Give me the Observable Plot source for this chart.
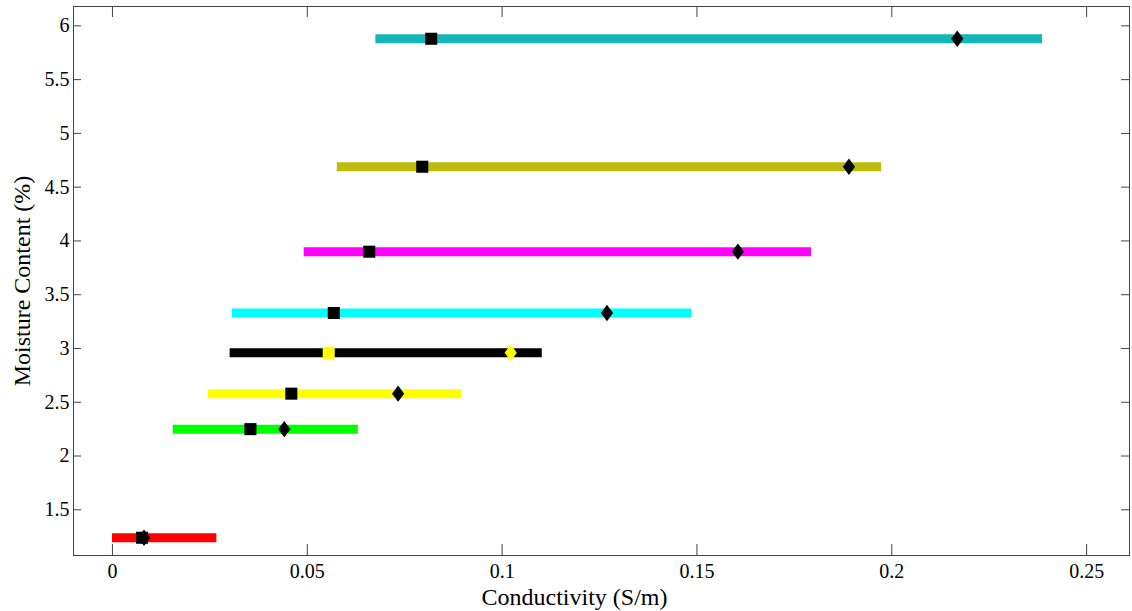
<!DOCTYPE html>
<html><head><meta charset="utf-8">
<script src="https://cdn.jsdelivr.net/npm/d3@7"></script>
<script src="https://cdn.jsdelivr.net/npm/@observablehq/plot@0.6"></script>
<style>html,body{margin:0;padding:0;background:#fff;}</style>
</head><body><div id="chart"></div>
<script>
const moisture   = [1.24, 2.25, 2.58, 2.96, 3.33, 3.90, 4.69, 5.88];
const rangeMin   = [0.0, 0.0156, 0.0246, 0.0302, 0.0308, 0.0492, 0.0577, 0.0676];
const rangeMax   = [0.0268, 0.0631, 0.0897, 0.1103, 0.1487, 0.1794, 0.1974, 0.2387];
const squareVal  = [0.0076, 0.0354, 0.0459, 0.0555, 0.0568, 0.0659, 0.0795, 0.0818];
const diamondVal = [0.0081, 0.0441, 0.0733, 0.1022, 0.1269, 0.1605, 0.1890, 0.2168];
const barColors    = ["#ff0000", "#00ff00", "#ffff00", "#000000", "#00ffff", "#ff00ff", "#bdbb0c", "#13b7b5"];
const markerColors = ["#000000", "#000000", "#000000", "#ffff00", "#000000", "#000000", "#000000", "#000000"];
const xTicks = [0, 0.05, 0.1, 0.15, 0.2, 0.25];
const xTickLabels = ["0", "0.05", "0.1", "0.15", "0.2", "0.25"];
const yTicks = [1.5, 2, 2.5, 3, 3.5, 4, 4.5, 5, 5.5, 6];
const yTickLabels = ["1.5", "2", "2.5", "3", "3.5", "4", "4.5", "5", "5.5", "6"];
const xLabel = "Conductivity (S/m)";
const yLabel = "Moisture Content (%)";

const rows = moisture.map((m, i) => ({
  m, lo: rangeMin[i], hi: rangeMax[i], sq: squareVal[i], dia: diamondVal[i],
  bc: barColors[i], mc: markerColors[i]
}));

const W = 1132, H = 611, ML = 73, MR = 3, MT = 6, MB = 56;
const innerW = W - ML - MR, innerH = H - MT - MB;
const axisColor = "#444";
const font = "'Liberation Serif', 'Times New Roman', serif";

const diamondSym = {
  draw(ctx, size) {
    const s = Math.sqrt(size / Math.PI);
    const hh = s * 1.2, hw = s * 0.9;
    ctx.moveTo(0, -hh); ctx.lineTo(hw, 0); ctx.lineTo(0, hh); ctx.lineTo(-hw, 0); ctx.closePath();
  }
};

const chart = Plot.plot({
  width: W, height: H,
  marginLeft: ML, marginRight: MR, marginTop: MT, marginBottom: MB,
  style: {fontFamily: font, background: "white", color: "black"},
  x: {domain: [-0.01, 0.261]},
  y: {domain: [1.075, 6.18]},
  color: {type: "identity"},
  marks: [
    Plot.ruleY(rows, {y: "m", x1: "lo", x2: "hi", stroke: "bc", strokeWidth: 9}),
    Plot.dot(rows, {x: "sq", y: "m", symbol: "square", r: 6.8, fill: "mc", stroke: "none"}),
    Plot.dot(rows, {x: "dia", y: "m", symbol: diamondSym, r: 6.8, fill: "mc", stroke: "none"}),
    Plot.frame({stroke: axisColor, strokeWidth: 1}),
    Plot.tickX(xTicks, {x: d => d, insetTop: innerH - 11, stroke: axisColor}),
    Plot.tickX(xTicks, {x: d => d, insetBottom: innerH - 11, stroke: axisColor}),
    Plot.tickY(yTicks, {y: d => d, insetRight: innerW - 8, stroke: axisColor}),
    Plot.tickY(yTicks, {y: d => d, insetLeft: innerW - 8, stroke: axisColor}),
    Plot.axisX({ticks: xTicks, tickSize: 0, tickPadding: 8, fontSize: 20, label: null,
      tickFormat: d => xTickLabels[xTicks.indexOf(d)]}),
    Plot.axisY({ticks: yTicks, tickSize: 0, tickPadding: 4, fontSize: 20, label: null,
      tickFormat: d => yTickLabels[yTicks.indexOf(d)]}),
    Plot.text([xLabel], {frameAnchor: "bottom", textAnchor: "middle", lineAnchor: "middle",
      dy: 41.5, dx: -27, text: d => d, fontSize: 24}),
    Plot.text([yLabel], {frameAnchor: "left", textAnchor: "middle", lineAnchor: "middle",
      dx: -51.5, rotate: -90, text: d => d, fontSize: 24})
  ]
});
document.getElementById("chart").appendChild(chart);
</script>
</body></html>
